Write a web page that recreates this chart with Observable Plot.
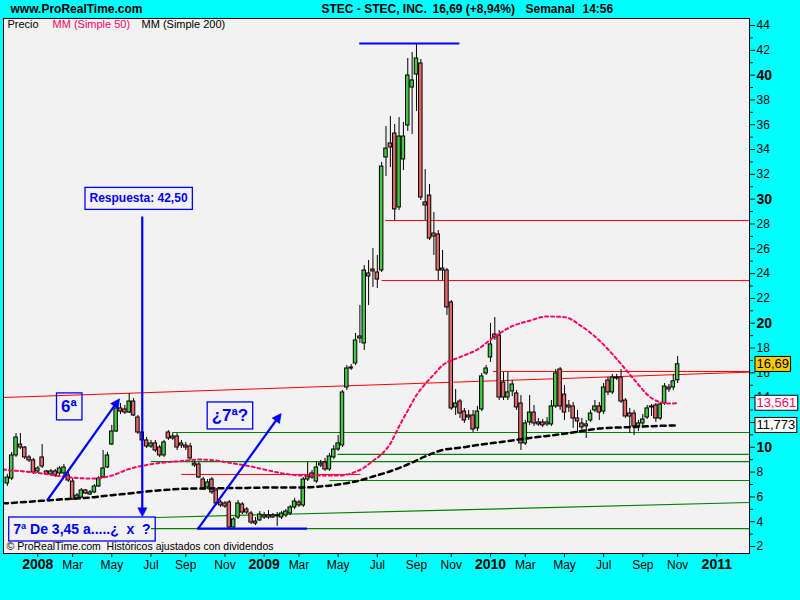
<!DOCTYPE html>
<html><head><meta charset="utf-8">
<script src="https://cdn.jsdelivr.net/npm/d3@7"></script>
<script src="https://cdn.jsdelivr.net/npm/@observablehq/plot@0.6"></script>
<style>html,body{margin:0;padding:0;background:#00ffff;} svg{display:block}</style>
</head><body>
<script>
const DAY = 864e5;
const firstWeek = "2007-11-13";

const opens = [
7.08, 7.48, 9.34, 10.22, 9.98, 9.18, 8.94, 8.05, 9.18, 8.05,
7.81, 8.05, 7.89, 7.89, 7.73, 7.24, 5.87, 5.95, 6.52, 6.19,
6.36, 6.84, 7.56, 8.37, 10.22, 11.27, 13.13, 13.05, 12.80, 13.69,
12.40, 11.19, 10.55, 10.06, 10.31, 9.98, 9.34, 11.19, 10.87, 10.87,
10.31, 10.14, 10.06, 8.69, 8.61, 7.40, 6.76, 7.40, 6.52, 5.55,
5.47, 5.55, 3.53, 4.34, 5.39, 4.98, 4.66, 4.01, 4.10, 4.50,
4.50, 4.50, 4.42, 4.34, 4.50, 4.66, 5.15, 5.55, 5.31, 7.40,
7.89, 7.24, 8.53, 8.77, 8.21, 9.18, 9.82, 10.14, 14.82, 16.35,
16.75, 18.77, 18.37, 24.01, 24.33, 24.09, 24.25, 33.36, 34.49, 35.29,
29.33, 33.20, 35.94, 39.00, 40.05, 40.94, 29.73, 30.29, 27.23, 27.15,
24.41, 24.25, 21.67, 13.21, 13.69, 12.88, 12.56, 12.56, 11.52, 13.05,
15.95, 17.24, 19.09, 19.01, 15.22, 14.01, 14.50, 14.34, 13.53, 10.31,
12.00, 12.80, 12.00, 12.00, 11.84, 11.84, 13.29, 16.27, 14.25, 13.37,
13.29, 12.32, 11.92, 11.68, 12.16, 12.97, 13.29, 12.88, 15.38, 14.42,
15.54, 15.62, 13.77, 12.72, 12.72, 11.68, 11.92, 12.40, 13.21, 13.37,
12.32, 13.53, 14.82, 14.82, 15.40];
const highs = [
7.81, 9.58, 11.11, 11.11, 10.06, 9.34, 9.10, 8.45, 10.22, 8.13,
8.21, 8.21, 8.45, 8.61, 7.97, 7.48, 6.27, 6.68, 6.60, 6.52,
7.00, 7.64, 9.74, 9.58, 11.76, 13.37, 13.53, 13.37, 14.34, 13.93,
12.56, 11.35, 10.79, 10.55, 10.55, 10.14, 10.55, 11.35, 11.11, 11.11,
10.55, 10.39, 10.31, 8.94, 8.77, 7.56, 7.40, 7.56, 6.68, 5.71,
5.63, 5.71, 4.34, 5.71, 5.55, 5.15, 4.82, 4.34, 4.82, 4.74,
4.90, 4.66, 4.74, 4.82, 4.98, 5.31, 5.87, 5.71, 7.56, 8.77,
8.13, 8.85, 8.94, 9.10, 9.50, 10.14, 10.95, 14.58, 16.59, 16.67,
19.17, 21.43, 24.65, 25.06, 26.02, 25.46, 32.96, 35.86, 36.66, 36.02,
36.58, 36.18, 41.34, 41.82, 42.55, 41.26, 32.39, 31.18, 28.92, 27.47,
25.86, 24.41, 21.83, 14.66, 13.85, 13.13, 12.97, 12.97, 13.29, 15.95,
16.59, 19.98, 20.46, 19.41, 16.03, 16.03, 15.38, 14.58, 14.17, 12.16,
14.17, 13.37, 12.32, 12.24, 12.40, 13.77, 16.27, 16.43, 14.98, 13.77,
13.61, 12.97, 12.32, 12.16, 12.97, 13.77, 13.61, 15.14, 15.62, 15.87,
15.87, 16.27, 13.93, 13.13, 12.97, 12.16, 12.64, 13.37, 13.45, 13.53,
13.61, 15.14, 15.06, 15.87, 17.32];
const lows = [
6.84, 7.32, 9.18, 9.82, 9.02, 8.77, 7.81, 7.89, 8.29, 7.73,
7.64, 7.56, 7.73, 7.64, 7.16, 5.71, 5.79, 5.87, 6.19, 6.11,
6.27, 6.76, 7.48, 8.29, 10.14, 11.19, 12.64, 12.64, 12.72, 12.48,
11.03, 10.39, 9.90, 9.90, 9.58, 9.18, 9.18, 10.55, 10.55, 9.74,
9.90, 9.74, 8.94, 8.37, 7.48, 6.52, 6.60, 6.19, 5.31, 5.15,
5.07, 3.45, 3.45, 4.18, 4.58, 4.58, 3.77, 3.69, 4.01, 4.18,
4.18, 4.26, 3.61, 4.18, 4.34, 4.50, 4.98, 5.15, 5.15, 7.24,
7.40, 7.08, 8.37, 8.05, 8.05, 9.02, 9.66, 9.98, 14.58, 16.19,
16.59, 18.37, 17.80, 21.43, 22.88, 22.80, 24.09, 31.83, 32.55, 28.28,
29.09, 32.31, 35.46, 35.21, 37.07, 29.89, 28.28, 26.67, 25.46, 23.44,
23.44, 20.62, 12.97, 12.56, 12.32, 11.92, 12.16, 11.19, 11.27, 12.88,
15.79, 16.83, 18.61, 13.77, 13.77, 13.77, 14.09, 12.97, 9.74, 10.14,
11.76, 11.68, 11.68, 11.60, 11.68, 11.68, 13.13, 12.97, 12.16, 12.80,
11.52, 11.19, 11.35, 10.71, 12.00, 12.80, 12.16, 12.64, 14.17, 14.25,
15.38, 13.53, 12.32, 11.11, 10.95, 11.27, 11.52, 12.24, 12.48, 12.00,
12.16, 13.37, 14.42, 14.58, 15.14];
const closes = [
7.56, 9.34, 10.79, 9.98, 9.18, 8.94, 7.97, 8.29, 8.45, 7.81,
8.05, 7.73, 8.29, 8.37, 7.32, 5.79, 6.11, 6.52, 6.27, 6.36,
6.84, 7.48, 8.29, 9.34, 11.27, 13.13, 12.88, 12.80, 13.69, 12.56,
11.19, 10.55, 10.06, 10.31, 9.74, 9.34, 10.39, 10.71, 10.71, 9.98,
10.14, 9.98, 9.10, 8.53, 7.56, 6.68, 7.16, 6.36, 5.47, 5.31,
5.23, 3.53, 4.18, 5.47, 4.74, 4.74, 3.93, 3.85, 4.58, 4.34,
4.34, 4.34, 4.50, 4.66, 4.82, 5.15, 5.63, 5.31, 7.40, 7.64,
7.56, 8.37, 8.69, 8.21, 9.26, 9.82, 10.31, 14.42, 16.35, 16.43,
18.61, 18.93, 24.25, 23.77, 24.17, 23.52, 32.63, 34.08, 34.17, 29.17,
35.05, 35.05, 39.97, 39.57, 41.34, 30.13, 29.49, 26.83, 26.99, 24.25,
24.25, 21.27, 13.13, 13.53, 12.72, 12.16, 12.40, 11.43, 12.88, 15.71,
16.35, 18.29, 18.85, 14.01, 14.01, 14.42, 15.06, 13.21, 10.31, 11.92,
12.80, 11.92, 11.84, 11.76, 12.00, 13.29, 15.95, 13.29, 12.80, 13.21,
12.32, 12.08, 11.60, 11.84, 12.72, 13.29, 12.80, 14.82, 14.42, 15.62,
15.62, 13.69, 12.48, 12.48, 11.68, 11.92, 12.24, 13.13, 13.29, 12.32,
13.45, 14.90, 14.66, 15.32, 16.69];

const ma50Weeks = [-1,0,4,8,12,16,20,24,28,32,36,40,44,48,52,56,60,64,68,72,76,80,82,84,86,88,90,92,94,96,98,100,104,108,112,116,120,124,128,132,136,140,144,148,152,154];
const ma50 = [8.21,8.17,8.05,7.89,7.68,7.52,7.48,7.72,8.25,8.57,8.77,8.89,9.01,8.93,8.69,8.45,8.13,7.85,7.72,7.72,7.72,8.02,8.37,8.91,9.44,10.30,11.68,12.96,14.20,15.10,15.87,16.61,17.27,17.88,18.93,19.76,20.20,20.54,20.49,19.74,18.61,17.12,15.46,13.97,13.53,13.56];
const ma200Weeks = [-1,0,4,8,12,16,20,24,28,32,36,40,44,48,52,56,60,64,68,72,76,80,84,88,92,96,100,104,108,112,116,120,124,128,132,136,140,144,148,152,154];
const ma200 = [5.47,5.49,5.59,5.68,5.79,5.87,5.98,6.14,6.27,6.43,6.55,6.65,6.68,6.69,6.72,6.73,6.76,6.76,6.76,6.84,7.00,7.24,7.64,8.07,8.61,9.26,9.78,9.96,10.18,10.36,10.55,10.75,10.91,11.09,11.31,11.51,11.59,11.64,11.70,11.75,11.77];

const redLines = [
  {from:"2009-07-13", to:"2011-02-20", v1:28.28, v2:28.28},
  {from:"2009-07-07", to:"2011-02-20", v1:23.44, v2:23.44},
  {from:"2007-11-06", to:"2011-02-20", v1:14.01, v2:16.06},
  {from:"2010-01-02", to:"2011-02-20", v1:16.11, v2:16.11},
  {from:"2008-08-19", to:"2009-06-03", v1:7.81, v2:7.81}
];
const greenLines = [
  {from:"2008-08-04", to:"2011-02-20", v1:11.19, v2:11.19},
  {from:"2009-04-27", to:"2011-02-20", v1:9.42, v2:9.42},
  {from:"2008-07-01", to:"2011-02-20", v1:8.85, v2:8.85},
  {from:"2009-04-14", to:"2011-02-20", v1:7.32, v2:7.32},
  {from:"2008-07-08", to:"2011-02-20", v1:4.34, v2:5.55},
  {from:"2008-07-01", to:"2011-02-20", v1:3.45, v2:3.45}
];
const blueLines = [
  {from:"2009-06-01", to:"2009-11-09", v1:42.55, v2:42.55},
  {from:"2008-09-13", to:"2009-03-09", v1:3.45, v2:3.45},
  {from:"2008-01-16", to:"2008-05-08", v1:5.71, v2:13.68},
  {from:"2008-09-15", to:"2009-01-23", v1:3.45, v2:12.50},
  {from:"2008-06-17", to:"2008-06-17", v1:28.60, v2:4.66}
];
const arrowHeadDates = ["2008-05-08","2009-01-23","2008-06-17"];
const arrowHeadValues = [13.68, 12.50, 4.66];
const arrowHeadAngles = [35, 36, 180];

const noteTexts = ["Respuesta: 42,50", "6ª", "¿7ª?", "7ª De 3,45 a.....¿\u00a0 x\u00a0 ?"];
const noteDates = ["2008-06-11", "2008-02-20", "2008-11-05", "2008-03-12"];
const noteValues = [30.05, 13.29, 12.56, 3.37];

const monthTickDates = ["2008-02-26","2008-04-29","2008-07-01","2008-08-26","2008-10-28","2009-02-24","2009-04-28","2009-06-30","2009-09-01","2009-10-27","2010-02-23","2010-04-27","2010-06-29","2010-08-31","2010-10-26"];
const monthTickLabels = ["Mar","May","Jul","Sep","Nov","Mar","May","Jul","Sep","Nov","Mar","May","Jul","Sep","Nov"];
const yearTickDates = ["2008-01-01","2008-12-30","2009-12-29","2010-12-28"];
const yearTickLabels = ["2008","2009","2010","2011"];

const yMinorTicks = [3,5,7,9,11,13,15,17,19,21,23,25,27,29,31,33,35,37,39,41,43];
const yTicks = [2,4,6,8,12,14,16,18,22,24,26,28,32,34,36,38,42,44];
const yBoldTicks = [10,20,30,40];

const lastValues = [16.69, 13.561, 11.773];
const lastLabels = ["16,69", "13,561", "11,773"];

const titleParts = ["STEC - STEC, INC.", "16,69 (+8,94%)", "Semanal", "14:56"];
const legendParts = ["Precio", "MM (Simple 50)", "MM (Simple 200)"];
const siteName = "www.ProRealTime.com";
const footer = "© ProRealTime.com  Históricos ajustados con dividendos";

// ---------- build ----------
const t0 = Date.parse(firstWeek);
const candles = opens.map((o, i) => ({date: new Date(t0 + 7 * i * DAY), open: o, high: highs[i], low: lows[i], close: closes[i]}));
const ma50Data = ma50Weeks.map((w, i) => ({date: new Date(t0 + 7 * w * DAY), value: ma50[i]}));
const ma200Data = ma200Weeks.map((w, i) => ({date: new Date(t0 + 7 * w * DAY), value: ma200[i]}));
const heads = arrowHeadDates.map((d, i) => ({date: new Date(d), value: arrowHeadValues[i], angle: arrowHeadAngles[i]}));
const noteSizes = [12, 17, 17, 14];
const notes = noteTexts.map((t, i) => ({text: t, date: new Date(noteDates[i]), value: noteValues[i], size: noteSizes[i]}));
const monthMap = new Map(monthTickDates.map((d, i) => [+new Date(d), monthTickLabels[i]]));
const yearMap = new Map(yearTickDates.map((d, i) => [+new Date(d), yearTickLabels[i]]));
const lastTextColors = ["black", "#ff0066", "black"];
const lastBoxFills = ["#ffcc00", "#ffffff", "#ffffff"];
const lastItems = lastValues.map((v, i) => ({value: v, label: lastLabels[i], color: lastTextColors[i]}));

const jan2008 = Date.UTC(2008, 0, 1);
const xDomain = [new Date(jan2008 - 55.16 * DAY), new Date(jan2008 + 1144.58 * DAY)];
const seg = () => ({x1: (r) => new Date(r.from), x2: (r) => new Date(r.to), y1: "v1", y2: "v2"});
const FONT = "Liberation Sans, Arial, sans-serif";
const head = (txt, dx) => Plot.text([txt], {frameAnchor: "top-left", dx, dy: -9, lineAnchor: "middle", fontSize: 12, fontWeight: "bold"});

const chart = Plot.plot({
  width: 800, height: 600,
  marginLeft: 3, marginRight: 51, marginTop: 18, marginBottom: 47,
  x: {type: "utc", domain: xDomain, axis: null},
  y: {domain: [1.437, 44.564], axis: null},
  style: {background: "#00ffff", color: "black", fontFamily: FONT, fontSize: "12px", overflow: "visible"},
  marks: [
    Plot.frame({fill: "#f2f2f2"}),
    Plot.link(redLines, {...seg(), stroke: "#ff0000", strokeWidth: 1, clip: true}),
    Plot.link(greenLines, {...seg(), stroke: "#008000", strokeWidth: 1.2, clip: true}),
    Plot.ruleX(candles, {x: "date", y1: "low", y2: "high", stroke: "black", strokeWidth: 1}),
    Plot.rect(candles, {
      x1: d => new Date(+d.date - 2.8 * DAY), x2: d => new Date(+d.date + 2.8 * DAY),
      y1: "open", y2: "close",
      fill: d => d.close >= d.open ? "#42c842" : "#e06868",
      stroke: "black", strokeWidth: 1
    }),
    Plot.line(ma200Data, {x: "date", y: "value", stroke: "black", strokeWidth: 2.5, strokeDasharray: "5,4", curve: "monotone-x", clip: true}),
    Plot.line(ma50Data, {x: "date", y: "value", stroke: "#ff0066", strokeWidth: 2, strokeDasharray: "3,3", curve: "monotone-x", clip: true}),
    Plot.link(blueLines, {...seg(), stroke: "#0000ff", strokeWidth: 2.2}),
    Plot.text(heads, {x: "date", y: "value", text: () => "▲", rotate: "angle", fontSize: 13, fill: "#0000ff", fontFamily: "DejaVu Sans"}),
    Plot.text(notes, {x: "date", y: "value", text: "text", fontSize: "size", fontWeight: "bold", fill: "#0000ff"}),
    Plot.frame({stroke: "black"}),
    Plot.axisY({anchor: "right", ticks: yMinorTicks, tickSize: 3, tickFormat: () => "", label: null}),
    Plot.axisY({anchor: "right", ticks: yTicks, tickSize: 5, tickPadding: 2, fontSize: 12, tickFormat: d => String(d), label: null}),
    Plot.axisY({anchor: "right", ticks: yBoldTicks, tickSize: 5, tickPadding: 2, fontSize: 14, fontWeight: "bold", tickFormat: d => String(d), label: null}),
    Plot.axisX({ticks: monthTickDates.map(d => new Date(d)), tickSize: 4, tickPadding: 3, fontSize: 12, tickFormat: d => monthMap.get(+d), label: null}),
    Plot.axisX({ticks: yearTickDates.map(d => new Date(d)), tickSize: 4, tickPadding: 2, fontSize: 14, fontWeight: "bold", tickFormat: d => yearMap.get(+d), label: null}),
    Plot.text(lastItems, {y: "value", text: "label", frameAnchor: "right", dx: 7, textAnchor: "start", fontSize: 13, fill: "color"}),
    head(siteName, 7),
    head(titleParts[0], 318),
    head(titleParts[1], 429),
    head(titleParts[2], 522),
    head(titleParts[3], 579),
    Plot.text([legendParts[0]], {frameAnchor: "top-left", dx: 4, dy: 6, lineAnchor: "middle", fontSize: 11}),
    Plot.text([legendParts[1]], {frameAnchor: "top-left", dx: 49, dy: 6, lineAnchor: "middle", fontSize: 11, fill: "#ff0066"}),
    Plot.text([legendParts[2]], {frameAnchor: "top-left", dx: 138, dy: 6, lineAnchor: "middle", fontSize: 11}),
    Plot.text([footer], {frameAnchor: "bottom-left", dx: 3, dy: -6.5, lineAnchor: "middle", fontSize: 10.5})
  ]
});
document.body.append(chart);

const NS = "http://www.w3.org/2000/svg";
function boxify(labels, padX, padY, fills, stroke, sw) {
  const texts = Array.from(chart.querySelectorAll("text"));
  labels.forEach((lab, i) => {
    const t = texts.find(e => e.textContent === lab);
    if (!t) return;
    const b = t.getBBox();
    const r = document.createElementNS(NS, "rect");
    r.setAttribute("x", b.x - padX);
    r.setAttribute("y", b.y - padY);
    r.setAttribute("width", b.width + 2 * padX);
    r.setAttribute("height", b.height + 2 * padY);
    r.setAttribute("fill", fills[i] || "none");
    r.setAttribute("stroke", stroke);
    r.setAttribute("stroke-width", sw);
    const tr = t.getAttribute("transform");
    if (tr) r.setAttribute("transform", tr);
    t.parentNode.insertBefore(r, t);
  });
}
boxify(noteTexts, 4.5, 4, ["none","none","none","none"], "#0000ff", 1.3);
boxify(lastLabels, 1.5, 0, lastBoxFills, "black", 1);
</script>
</body></html>
